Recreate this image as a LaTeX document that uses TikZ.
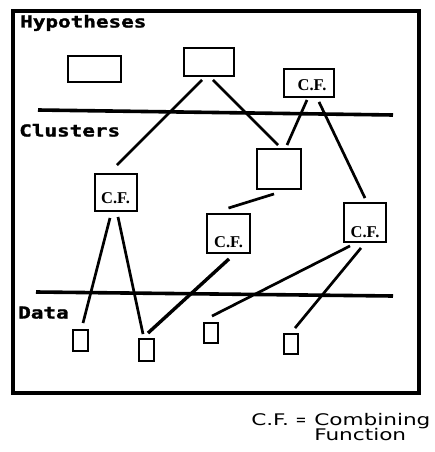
\documentclass[tikz,border=0pt]{standalone}
\usepackage{fontspec}
\newfontfamily\lblfont{DejaVu Sans Mono}[BoldFeatures={FakeBold=1.5}]
\newfontfamily\cffont{Liberation Serif}
\newfontfamily\capfont{DejaVu Sans}
\begin{document}
\begin{tikzpicture}[x=1pt,y=-1pt,
  box/.style={draw,line width=1.9pt,inner sep=0pt},
  section/.style={font=\lblfont\bfseries\fontsize{16.5}{16.5}\selectfont,xscale=1.27,anchor=base west,inner sep=0pt},
  cftext/.style={font=\cffont\bfseries\fontsize{16.5}{16.5}\selectfont,anchor=base,inner sep=0pt},
  captext/.style={font=\capfont\fontsize{16}{16}\selectfont,xscale=1.35,anchor=base west,inner sep=0pt},
  link/.style={line width=2.7pt},
  divider/.style={line width=3.6pt}]
\useasboundingbox (0,0) rectangle (435,452);
% frame
\draw[line width=3.4pt] (13,11) rectangle (419,393);
% dividers
\coordinate (d1a) at (38,110); \coordinate (d1b) at (393,115);
\coordinate (d2a) at (36,292); \coordinate (d2b) at (393,296);
\draw[divider] (d1a) -- (d1b);
\draw[divider] (d2a) -- (d2b);
% section labels
\node[section] (lhyp) at (20,27.5) {Hypotheses};
\node[section] (lclu) at (19,136.5) {Clusters};
\node[section] (ldat) at (18,318.5) {Data};
% hypothesis boxes
\node[box,minimum width=53,minimum height=26] (h1) at (94.5,69) {};
\node[box,minimum width=50,minimum height=28] (h2) at (209,62) {};
\node[box,minimum width=50,minimum height=28] (h3) at (309,83) {};
\node[cftext] (h3t) at (312,90.5) {C.F.};
% cluster boxes
\node[box,minimum width=42,minimum height=37] (k1) at (116,192.5) {};
\node[cftext] (k1t) at (115.5,203.5) {C.F.};
\node[box,minimum width=44,minimum height=40] (k2) at (279,169) {};
\node[box,minimum width=43,minimum height=39] (k3) at (228.5,233.5) {};
\node[cftext] (k3t) at (228.5,247.5) {C.F.};
\node[box,minimum width=42,minimum height=39] (k4) at (365,222.5) {};
\node[cftext] (k4t) at (365,237.5) {C.F.};
% data boxes
\node[box,minimum width=15,minimum height=21] (e1) at (80.5,340.5) {};
\node[box,minimum width=15,minimum height=22] (e2) at (146.5,350) {};
\node[box,minimum width=14,minimum height=20] (e3) at (211,333) {};
\node[box,minimum width=14,minimum height=20] (e4) at (291,344) {};
% connectors
\draw[link] ([shift={(-7,3)}]h2.south) -- ([shift={(1,-8)}]k1.north);
\draw[link] ([shift={(4,3)}]h2.south) -- ([shift={(-1,-3)}]k2.north);
\draw[link] ([shift={(-2,2)}]h3.south) -- ([shift={(8,-3)}]k2.north);
\draw[link] ([shift={(10,4)}]h3.south) -- ([shift={(0,-4)}]k4.north);
\draw[link] ([shift={(-6,6)}]k1.south) -- ([shift={(2.5,-6)}]e1.north);
\draw[link] ([shift={(2,5)}]k1.south) -- ([shift={(-3.5,-4)}]e2.north);
\draw[link] ([shift={(-5,4)}]k2.south) -- ([shift={(0,-5)}]k3.north);
\draw[link,line width=3.4pt] ([shift={(0.5,5)}]k3.south) -- ([shift={(1.5,-5)}]e2.north);
\draw[link] ([shift={(-15,3)}]k4.south) -- ([shift={(1,-6)}]e3.north);
\draw[link] ([shift={(-4,5)}]k4.south) -- ([shift={(4,-5)}]e4.north);
% caption
\node[captext] (c1) at (251,425) {C.F.};
\node[captext,xscale=0.6,anchor=base] (c2) at (301,425) {=};
\node[captext] (c3) at (314,425) {Combining};
\node[captext] (c4) at (314,440) {Function};
\end{tikzpicture}
\end{document}
